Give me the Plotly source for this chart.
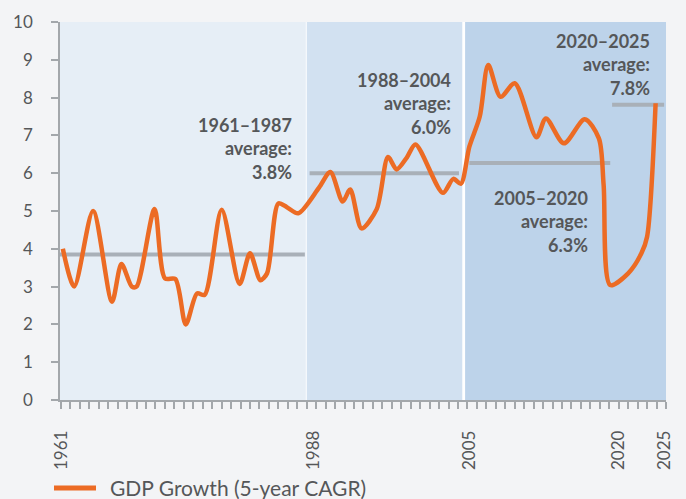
import plotly.graph_objects as go

# ---- data ----
year_pos = [1961.2, 1962.4, 1964.4, 1966.4, 1967.4, 1968.5, 1969.0, 1970.9,
            1972.0, 1973.1, 1974.2, 1975.4, 1976.2, 1978.0, 1979.9, 1981.0,
            1982.1, 1982.8, 1984.0, 1984.9, 1986.1, 1988.3, 1989.5, 1990.8,
            1991.6, 1992.8, 1994.4, 1995.6, 1996.5, 1997.6, 1998.5, 2001.4,
            2002.5, 2003.3, 2004.2, 2005.3, 2006.2, 2007.5, 2009.0, 2011.3,
            2012.3, 2014.2, 2016.4, 2017.9, 2018.4, 2019.1, 2021.0, 2022.4,
            2023.0, 2023.9]
gdp_growth = [4.0, 3.0, 5.0, 2.6, 3.6, 3.0, 3.0, 5.05,
              3.22, 3.2, 2.0, 2.82, 2.78, 5.03, 3.07, 3.88,
              3.17, 3.35, 5.2, 5.1, 4.94, 5.62, 6.03, 5.25,
              5.57, 4.54, 5.05, 6.43, 6.1, 6.42, 6.76, 5.48,
              5.85, 5.72, 6.7, 7.5, 8.86, 8.02, 8.38, 6.95,
              7.45, 6.79, 7.43, 6.92, 5.7, 3.04, 3.35, 3.88,
              4.32, 7.85]
series_name = "GDP Growth (5-year CAGR)"

period_start = [1960.9, 1987.3, 2004.2, 2019.3]
period_end = [1986.8, 2003.1, 2019.1, 2024.8]
period_avg = [3.85, 6.0, 6.27, 7.81]
period_labels = ["1961–1987<br>average:<br>3.8%", "1988–2004<br>average:<br>6.0%",
                 "2005–2020<br>average:<br>6.3%", "2020–2025<br>average:<br>7.8%"]
label_x = [1985.7, 2002.5, 2017.0, 2023.5]
label_y = [7.62, 8.82, 5.7, 9.84]

shade_start = [1960.9, 1987.0, 2003.75]
shade_end = [1986.9, 2003.45, 2025.0]
shade_colors = ["#E6EEF6", "#D2E1F1", "#BDD3EA"]

tick_vals = [1961.1, 1987.7, 2004.2, 2020.0, 2024.8]
tick_text = ["1961", "1988", "2005", "2020", "2025"]

FONT = "Lato"
TXT = "#555759"
AXIS = "#A3A7AB"
ORANGE = "#EC6B24"

fig = go.Figure()

for s, e, a in zip(period_start, period_end, period_avg):
    fig.add_trace(go.Scatter(x=[s, e], y=[a, a], mode="lines",
                             line=dict(color="#A9B0B8", width=4),
                             showlegend=False, hoverinfo="skip"))

fig.add_trace(go.Scatter(x=year_pos, y=gdp_growth, mode="lines",
                         name=series_name, showlegend=False,
                         line=dict(color=ORANGE, width=4.5, shape="spline", smoothing=0.8)))

shapes = []
for s, e, c in zip(shade_start, shade_end, shade_colors):
    shapes.append(dict(type="rect", xref="x", yref="y", x0=s, x1=e, y0=0, y1=10,
                       fillcolor=c, line=dict(width=0), layer="below"))
# legend key (drawn manually so the sample line matches the reference length)
shapes.append(dict(type="line", xref="paper", yref="paper", x0=-0.0099, x1=0.0594,
                   y0=-0.2328, y1=-0.2328, line=dict(color=ORANGE, width=5)))

annotations = []
for t, x, y in zip(period_labels, label_x, label_y):
    annotations.append(dict(text="<b>" + t + "</b>", x=x, y=y, xref="x", yref="y",
                            xanchor="right", yanchor="top", align="right",
                            showarrow=False, font=dict(family=FONT, size=18, color=TXT)))
annotations.append(dict(text=series_name, x=0.0792, y=-0.2328, xref="paper", yref="paper",
                        xanchor="left", yanchor="middle", showarrow=False,
                        font=dict(family=FONT, size=21, color=TXT)))

fig.update_layout(
    width=686, height=499,
    margin=dict(l=60, r=20, t=22, b=99, autoexpand=False),
    paper_bgcolor="#F3F4F6", plot_bgcolor="#FFFFFF",
    shapes=shapes, annotations=annotations,
    font=dict(family=FONT, color=TXT),
    showlegend=False,
    xaxis=dict(range=[1960.9, 2025.0], showgrid=False, zeroline=False, automargin=False,
               showline=True, linecolor=AXIS, linewidth=1.5,
               tickmode="array", tickvals=tick_vals, ticktext=tick_text,
               ticks="outside", ticklen=0, tickangle=-90,
               tickfont=dict(family=FONT, size=17, color=TXT),
               ticklabelstandoff=22,
               minor=dict(ticks="outside", ticklen=7, tickcolor=AXIS, tickwidth=1.5,
                          tick0=1961, dtick=1, showgrid=False)),
    yaxis=dict(range=[0, 10], dtick=1, showgrid=False, zeroline=False, automargin=False,
               showline=True, linecolor=AXIS, linewidth=1.5,
               ticks="outside", ticklen=7, tickcolor=AXIS, tickwidth=1.5,
               tickfont=dict(family=FONT, size=17, color=TXT),
               ticklabelstandoff=15),
)

fig.write_html("out.html", config={"displayModeBar": False},
               post_script="document.body.style.margin='0px';document.body.style.overflow='hidden';")
